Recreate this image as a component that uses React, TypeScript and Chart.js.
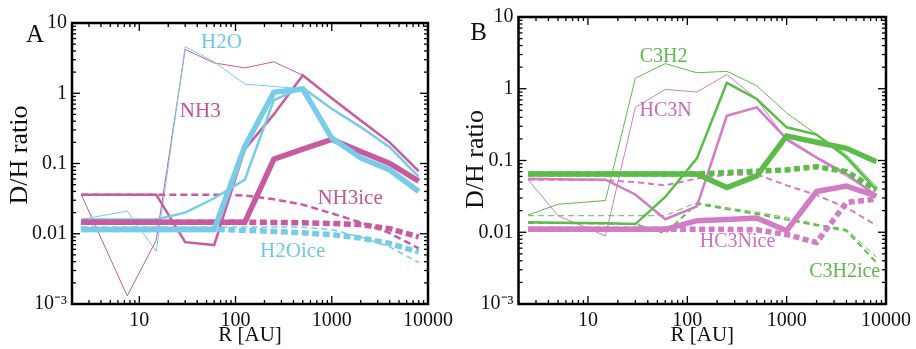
import { useEffect, useRef } from 'react';
import { Chart, registerables } from 'chart.js';

Chart.register(...registerables);

// ---------- shared axes ----------
const xTickValues = [10, 100, 1000, 10000];
const xTickLabels = ['10', '100', '1000', '10000'];
const yTickValues = [0.001, 0.01, 0.1, 1, 10];
const yTickLabels = ['10\u207B\u00B3', '0.01', '0.1', '1', '10'];
const xTitle = 'R [AU]';
const yTitle = 'D/H ratio';

// ---------- panel A (H2O / NH3) ----------
const radiiA = [2.5, 7.5, 15, 30, 60, 125, 250, 500, 1000, 2000, 4000, 8000];
const h2oThickA = [0.0115, 0.0115, 0.0115, 0.0115, 0.0115, 0.175, 1.03, 1.15, 0.23, 0.12, 0.081, 0.04];
const h2oMediumA = [0.016, 0.016, 0.016, 0.02, 0.032, 0.059, 0.8, 1.2, 0.6, 0.33, 0.17, 0.065];
const h2oThinA = [0.016, 0.021, 0.0056, 4.6, 2.8, 1.35, 1.25, 1.15, 0.6, 0.33, 0.17, 0.065];
const nh3ThickA = [0.0146, 0.0146, 0.0146, 0.0146, 0.0146, 0.0146, 0.115, 0.16, 0.22, 0.148, 0.1, 0.056];
const nh3MediumA = [0.036, 0.036, 0.036, 0.0076, 0.0069, 0.16, 0.5, 1.8, 0.85, 0.41, 0.2, 0.078];
const nh3ThinA = [0.036, 0.0013, 0.0081, 4.2, 2.7, 2.3, 2.8, 1.8, 0.85, 0.41, 0.2, 0.078];
const h2oIceThickA = [0.0115, 0.0115, 0.0115, 0.0115, 0.0115, 0.0112, 0.0108, 0.0103, 0.0097, 0.0087, 0.0073, 0.0055];
const h2oIceThinA = [0.0125, 0.0125, 0.0125, 0.0125, 0.0125, 0.0125, 0.0125, 0.0124, 0.0114, 0.009, 0.0065, 0.0039];
const nh3IceThickA = [0.0146, 0.0146, 0.0146, 0.0146, 0.0146, 0.0146, 0.0145, 0.0143, 0.014, 0.0135, 0.0118, 0.009];
const nh3IceMediumA = [0.036, 0.036, 0.036, 0.036, 0.036, 0.035, 0.031, 0.026, 0.0195, 0.0145, 0.0102, 0.0062];

// ---------- panel B (C3H2 / HC3N) ----------
const radiiB = [2.5, 5, 15, 30, 60, 125, 250, 500, 1000, 2000, 4000, 8000];
const c3h2ThickB = [0.065, 0.065, 0.065, 0.065, 0.065, 0.065, 0.042, 0.061, 0.22, 0.18, 0.148, 0.096];
const c3h2MediumB = [0.0138, 0.0136, 0.0133, 0.013, 0.031, 0.107, 1.21, 0.72, 0.29, 0.23, 0.11, 0.039];
const c3h2ThinB = [0.0174, 0.0245, 0.0277, 1.4, 2.24, 1.67, 1.75, 1.1, 0.46, 0.23, 0.12, 0.043];
const hc3nThickB = [0.011, 0.011, 0.011, 0.011, 0.011, 0.0145, 0.015, 0.0158, 0.0105, 0.037, 0.044, 0.032];
const hc3nMediumB = [0.0555, 0.055, 0.054, 0.0336, 0.0152, 0.023, 0.42, 0.55, 0.2, 0.11, 0.065, 0.032];
const hc3nThinB = [0.054, 0.017, 0.0089, 0.55, 0.98, 0.9, 1.58, 0.72, 0.19, 0.107, 0.06, 0.034];
const c3h2IceThickB = [0.065, 0.065, 0.065, 0.065, 0.065, 0.065, 0.068, 0.071, 0.074, 0.082, 0.07, 0.039];
const c3h2IceMediumB = [0.0135, 0.0135, 0.0132, 0.013, 0.0097, 0.025, 0.021, 0.018, 0.015, 0.0125, 0.0105, 0.0038];
const c3h2IceThinB = [0.017, 0.017, 0.017, 0.017, 0.017, 0.026, 0.022, 0.019, 0.016, 0.013, 0.011, 0.0045];
const hc3nIceThickB = [0.011, 0.011, 0.011, 0.011, 0.011, 0.011, 0.011, 0.0108, 0.0093, 0.0072, 0.026, 0.029];
const hc3nIceMediumB = [0.054, 0.054, 0.053, 0.05, 0.045, 0.056, 0.063, 0.064, 0.045, 0.033, 0.022, 0.0125];

// ---------- styles ----------
const CYAN = '#78cbe9';
const MAGENTA_A = '#c85aa0';
const MAGENTA_B = '#d27cc6';
const GREEN = '#5cbc48';
const FONT = '"Liberation Serif", "Times New Roman", serif';

const W_THIN = 1;
const W_MED = 2.5;
const W_THICK = 5.5;

function series(label: string, radii: number[], values: number[], color: string, width: number, dash: number[] = []) {
  return {
    label,
    data: radii.map((r, i) => ({ x: r, y: values[i] })),
    borderColor: color,
    backgroundColor: color,
    borderWidth: width,
    borderDash: dash,
    pointRadius: 0,
    tension: 0,
    fill: false,
  };
}

const datasetsA = [
  series('H2O thick', radiiA, h2oThickA, CYAN, W_THICK),
  series('NH3 thick', radiiA, nh3ThickA, MAGENTA_A, W_THICK),
  series('H2O ice thick', radiiA, h2oIceThickA, CYAN, W_THICK, [7, 3.5]),
  series('NH3 ice thick', radiiA, nh3IceThickA, MAGENTA_A, W_THICK, [7, 3.5]),
  series('H2O medium', radiiA, h2oMediumA, CYAN, W_MED),
  series('NH3 medium', radiiA, nh3MediumA, MAGENTA_A, W_MED),
  series('NH3 ice medium', radiiA, nh3IceMediumA, MAGENTA_A, W_MED, [7, 4]),
  series('H2O ice thin', radiiA, h2oIceThinA, CYAN, 1.5, [6, 4]),
  series('H2O thin', radiiA, h2oThinA, CYAN, W_THIN),
  series('NH3 thin', radiiA, nh3ThinA, MAGENTA_A, W_THIN),
];

const datasetsB = [
  series('C3H2 thick', radiiB, c3h2ThickB, GREEN, W_THICK),
  series('HC3N thick', radiiB, hc3nThickB, MAGENTA_B, W_THICK),
  series('C3H2 ice thick', radiiB, c3h2IceThickB, GREEN, W_THICK, [6, 3.5]),
  series('HC3N ice thick', radiiB, hc3nIceThickB, MAGENTA_B, W_THICK, [6, 3.5]),
  series('C3H2 medium', radiiB, c3h2MediumB, GREEN, W_MED),
  series('HC3N medium', radiiB, hc3nMediumB, MAGENTA_B, W_MED),
  series('C3H2 ice medium', radiiB, c3h2IceMediumB, GREEN, W_MED - 0.5, [6, 4]),
  series('HC3N ice medium', radiiB, hc3nIceMediumB, MAGENTA_B, W_MED - 0.5, [6, 4]),
  series('C3H2 ice thin', radiiB, c3h2IceThinB, GREEN, W_THIN, [6, 4]),
  series('C3H2 thin', radiiB, c3h2ThinB, GREEN, W_THIN),
  series('HC3N thin', radiiB, hc3nThinB, MAGENTA_B, W_THIN),
];

// annotations: [text, x (AU), y (D/H), color]
const notesA: [string, number, number, string][] = [
  ['H2O', 71.5, 5.25, '#6fc6e6'],
  ['NH3', 43, 0.545, '#c0559a'],
  ['NH3ice', 1550, 0.0316, '#c0559a'],
  ['H2Oice', 393, 0.00555, '#6fc6e6'],
];
const notesB: [string, number, number, string][] = [
  ['C3H2', 57.8, 2.76, '#5fb84a'],
  ['HC3N', 60.5, 0.497, '#c06cb8'],
  ['HC3Nice', 320, 0.0074, '#c672bd'],
  ['C3H2ice', 3840, 0.00278, '#5fb84a'],
];

const framePlugin = {
  id: 'frame',
  afterDatasetsDraw(chart: any, _args: any, opts: any) {
    const { ctx, chartArea: a, scales } = chart;
    const xs = scales.x;
    const ys = scales.y;
    ctx.save();
    ctx.strokeStyle = '#000';
    ctx.lineWidth = 1.3;
    const seg = (x1: number, y1: number, x2: number, y2: number) => {
      ctx.beginPath();
      ctx.moveTo(x1, y1);
      ctx.lineTo(x2, y2);
      ctx.stroke();
    };
    for (let e = 0; e <= 4; e++) {
      for (let m = 1; m <= 9; m++) {
        const v = m * Math.pow(10, e);
        if (v < xs.min || v > xs.max) continue;
        const px = xs.getPixelForValue(v);
        const len = m === 1 ? 8 : 4;
        seg(px, a.bottom, px, a.bottom - len);
        seg(px, a.top, px, a.top + len);
      }
    }
    for (let e = -3; e <= 1; e++) {
      for (let m = 1; m <= 9; m++) {
        const v = m * Math.pow(10, e);
        if (v < ys.min * 0.999 || v > ys.max * 1.001) continue;
        const py = ys.getPixelForValue(v);
        const len = m === 1 ? 8 : 4;
        seg(a.left, py, a.left + len, py);
        seg(a.right, py, a.right - len, py);
      }
    }
    ctx.lineWidth = 2.5;
    ctx.strokeRect(a.left, a.top, a.right - a.left, a.bottom - a.top);

    ctx.textAlign = 'center';
    ctx.textBaseline = 'middle';
    ctx.font = `${opts.noteSize}px ${FONT}`;
    for (const [text, x, y, color] of opts.notes) {
      ctx.fillStyle = color;
      ctx.fillText(text, xs.getPixelForValue(x), ys.getPixelForValue(y));
    }
    ctx.fillStyle = '#111';
    ctx.font = `25px ${FONT}`;
    ctx.fillText(opts.panel, a.left + opts.panelDx, a.top + opts.panelDy);

    // y-axis title
    ctx.save();
    ctx.translate(a.left - opts.yTitleDx, (a.top + a.bottom) / 2 + opts.yTitleDy);
    ctx.rotate(-Math.PI / 2);
    ctx.font = `26px ${FONT}`;
    ctx.fillStyle = '#111';
    ctx.fillText(yTitle, 0, 0);
    ctx.restore();
    ctx.restore();
  },
};

function makeConfig(datasets: any[], notes: any[], p: any) {
  return {
    type: 'line',
    data: { datasets },
    plugins: [framePlugin],
    options: {
      animation: false,
      responsive: false,
      devicePixelRatio: 1,
      layout: { padding: { left: 0, right: p.padRight, top: p.padTop, bottom: 0 } },
      plugins: {
        legend: { display: false },
        tooltip: { enabled: false },
        frame: {
          notes,
          noteSize: p.noteSize,
          panel: p.panel,
          panelDx: p.panelDx,
          panelDy: p.panelDy,
          yTitleDx: p.yTitleDx,
          yTitleDy: p.yTitleDy,
        },
      },
      scales: {
        x: {
          type: 'logarithmic',
          min: 2,
          max: 10000,
          grid: { display: false, drawTicks: false },
          border: { display: false },
          afterFit: (s: any) => {
            s.height = 45;
          },
          afterBuildTicks: (s: any) => {
            s.ticks = xTickValues.map((v) => ({ value: v }));
          },
          ticks: {
            autoSkip: false,
            maxRotation: 0,
            padding: 5,
            color: '#111',
            font: { family: FONT, size: 20 },
            callback: (_v: any, i: number) => xTickLabels[i],
          },
          title: {
            display: true,
            text: xTitle,
            color: '#111',
            font: { family: FONT, size: 21 },
            padding: { top: 0, bottom: 1 },
          },
        },
        y: {
          type: 'logarithmic',
          min: 0.001,
          max: 10,
          grid: { display: false, drawTicks: false },
          border: { display: false },
          afterFit: (s: any) => {
            s.width = p.yWidth;
          },
          afterBuildTicks: (s: any) => {
            s.ticks = yTickValues.map((v) => ({ value: v }));
          },
          ticks: {
            autoSkip: false,
            padding: 5,
            color: '#111',
            font: { family: FONT, size: 20 },
            callback: (_v: any, i: number) => yTickLabels[i],
          },
          title: { display: false },
        },
      },
    },
  };
}

function Panel({ datasets, notes, p, left }: any) {
  const ref = useRef<HTMLCanvasElement | null>(null);
  useEffect(() => {
    if (!ref.current) return;
    const chart = new Chart(ref.current, makeConfig(datasets, notes, p) as any);
    return () => chart.destroy();
  }, []);
  return (
    <canvas
      ref={ref}
      width={458}
      height={349}
      style={{ position: 'absolute', left, top: 0, width: 458, height: 349 }}
    />
  );
}

export default function App() {
  return (
    <div style={{ position: 'absolute', left: 0, top: 0, width: 916, height: 349, background: '#fff' }}>
      <Panel
        datasets={datasetsA}
        notes={notesA}
        left={0}
        p={{ padRight: 30, padTop: 23, yWidth: 72, noteSize: 21, panel: 'A', panelDx: -37, panelDy: 12, yTitleDx: 52, yTitleDy: -8.5 }}
      />
      <Panel
        datasets={datasetsB}
        notes={notesB}
        left={458}
        p={{ padRight: 28, padTop: 13, yWidth: 60.5, noteSize: 20, panel: 'B', panelDx: -40, panelDy: 16, yTitleDx: 42.5, yTitleDy: -1 }}
      />
    </div>
  );
}
